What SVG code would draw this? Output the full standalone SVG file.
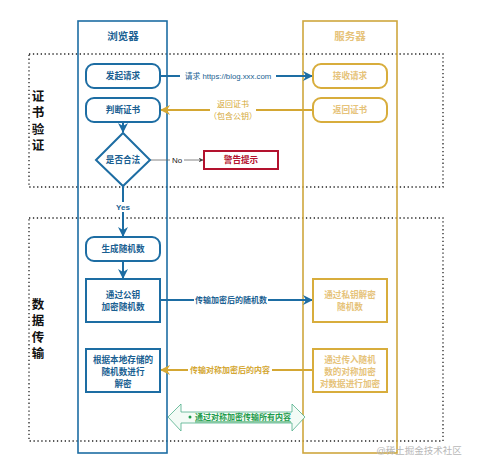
<svg xmlns="http://www.w3.org/2000/svg" width="477" height="468" viewBox="0 0 477 468">
<defs>
<style>
text{font-family:"Liberation Sans","Noto Sans CJK SC",sans-serif;text-anchor:middle;dominant-baseline:central}
.sec{fill:none;stroke:#222;stroke-width:1.3;stroke-dasharray:1.3 2.6}
.lb{fill:none;stroke:#1d6da3;stroke-width:1.6}
.lg{fill:none;stroke:#cfa73e;stroke-width:1.6}
.nb{fill:#fff;stroke:#1d6da3;stroke-width:2}
.ng{fill:#fff;stroke:#d8ad3c;stroke-width:2}
.tb{fill:#1a5f92;font-size:8.6px;font-weight:bold}
.tg{fill:#e6c37a;font-size:8.6px;font-weight:bold}
.sl{fill:#111;font-size:12.5px;font-weight:bold}
.cb{stroke:#1d6da3;stroke-width:2;fill:none}
.cg{stroke:#d4a733;stroke-width:2;fill:none}
</style>
<marker id="ab" viewBox="0 0 10 10" refX="9" refY="5" markerWidth="5" markerHeight="5" orient="auto"><path d="M0,0 L10,5 L0,10 L3,5 Z" fill="#1d6da3"/></marker>
<marker id="ag" viewBox="0 0 10 10" refX="9" refY="5" markerWidth="5" markerHeight="5" orient="auto"><path d="M0,0 L10,5 L0,10 L3,5 Z" fill="#d4a733"/></marker>
<marker id="ak" viewBox="0 0 10 10" refX="9" refY="5" markerWidth="6" markerHeight="6" orient="auto"><path d="M0,0 L10,5 L0,10 L3,5 Z" fill="#444"/></marker>
</defs>
<rect width="477" height="468" fill="#fff"/>

<g id="sections">
<rect class="sec" x="29" y="54" width="414" height="133"/>
<rect class="sec" x="29" y="218" width="414" height="223"/>
<text class="sl" x="38" y="97">证</text>
<text class="sl" x="38" y="113">书</text>
<text class="sl" x="38" y="130">验</text>
<text class="sl" x="38" y="146">证</text>
<text class="sl" x="38" y="305">数</text>
<text class="sl" x="38" y="321">据</text>
<text class="sl" x="38" y="338">传</text>
<text class="sl" x="38" y="354">输</text>
</g>

<g id="lane-browser">
<rect class="lb" x="78" y="21" width="89" height="432" stroke-width="2"/>
<text x="123" y="36" fill="#1a5f92" font-size="10.5" font-weight="bold">浏览器</text>
</g>
<g id="lane-server">
<rect class="lg" x="303" y="21" width="94" height="432" stroke-width="2"/>
<text x="350" y="36" fill="#e6c37a" font-size="10.5" font-weight="bold">服务器</text>
</g>

<g id="connectors">
<line class="cb" x1="123" y1="122" x2="123" y2="132" marker-end="url(#ab)"/>
<line x1="150" y1="160" x2="203" y2="160" stroke="#666" stroke-width="0.8" marker-end="url(#ak)"/>
<rect x="170" y="155" width="14" height="10" fill="#fff"/>
<text x="177" y="160" fill="#222" font-size="8">No</text>
<line class="cb" x1="123" y1="186" x2="123" y2="236" marker-end="url(#ab)"/>
<rect x="113" y="202" width="20" height="10" fill="#fff"/>
<text x="123" y="207" fill="#1a5f92" font-size="8" font-weight="bold">Yes</text>
<line class="cb" x1="123" y1="261" x2="123" y2="278" marker-end="url(#ab)"/>

<line class="cb" x1="160" y1="76" x2="312" y2="76" marker-end="url(#ab)"/>
<rect x="180" y="71" width="96" height="10" fill="#fff"/>
<text x="228" y="76" fill="#1a5f92" font-size="7.8">请求 https://blog.xxx.com</text>

<line class="cg" x1="313" y1="110" x2="161" y2="110" marker-end="url(#ag)"/>
<rect x="210" y="98" width="46" height="24" fill="#fff"/>
<text x="233" y="104" fill="#d4a733" font-size="8">返回证书</text>
<text x="233" y="116" fill="#d4a733" font-size="8">（包含公钥）</text>

<line class="cb" x1="160" y1="300" x2="312" y2="300" marker-end="url(#ab)"/>
<rect x="194" y="295" width="74" height="10" fill="#fff"/>
<text x="231" y="300" fill="#1a5f92" font-size="8" font-weight="bold">传输加密后的随机数</text>

<line class="cg" x1="313" y1="370" x2="161" y2="370" marker-end="url(#ag)"/>
<rect x="188" y="365" width="84" height="10" fill="#fff"/>
<text x="230" y="370" fill="#d4a733" font-size="8" font-weight="bold">传输对称加密后的内容</text>

<path d="M168,417 L181,404 L181,412 L292,412 L292,404 L305,417 L292,431 L292,423 L181,423 L181,431 Z" fill="#f3fbf6" stroke="#4fae8a" stroke-width="0.8"/>
<circle cx="190" cy="417" r="1.5" fill="#1e9b4c"/>
<text x="243" y="417" fill="#1e9b4c" font-size="8" font-weight="bold" text-decoration="underline">通过对称加密传输所有内容</text>
</g>

<g id="n-send">
<rect class="nb" x="86" y="64" width="74" height="24" rx="8"/>
<text class="tb" x="123" y="76">发起请求</text>
</g>
<g id="n-judge">
<rect class="nb" x="86" y="98" width="74" height="24" rx="8"/>
<text class="tb" x="123" y="110">判断证书</text>
</g>
<g id="n-valid">
<path class="nb" d="M123,133 L150,160 L123,186 L96,160 Z"/>
<text class="tb" x="123" y="160">是否合法</text>
</g>
<g id="n-warn">
<rect x="204" y="151" width="74" height="18" fill="#fff" stroke="#b3122e" stroke-width="2"/>
<text x="241" y="160" fill="#b3122e" font-size="8.6" font-weight="bold">警告提示</text>
</g>
<g id="n-gen">
<rect class="nb" x="86" y="237" width="74" height="24" rx="8"/>
<text class="tb" x="123" y="249">生成随机数</text>
</g>
<g id="n-encrypt">
<rect class="nb" x="86" y="279" width="74" height="43"/>
<text class="tb" x="123" y="295">通过公钥</text>
<text class="tb" x="123" y="307">加密随机数</text>
</g>
<g id="n-decrypt">
<rect class="nb" x="86" y="349" width="74" height="43"/>
<text class="tb" x="123" y="360">根据本地存储的</text>
<text class="tb" x="123" y="372">随机数进行</text>
<text class="tb" x="123" y="384">解密</text>
</g>

<g id="n-recv">
<rect class="ng" x="313" y="64" width="74" height="24" rx="8"/>
<text class="tg" x="350" y="76">接收请求</text>
</g>
<g id="n-return">
<rect class="ng" x="313" y="98" width="74" height="24" rx="8"/>
<text class="tg" x="350" y="110">返回证书</text>
</g>
<g id="n-privdec">
<rect class="ng" x="313" y="279" width="74" height="43"/>
<text class="tg" x="350" y="295">通过私钥解密</text>
<text class="tg" x="350" y="307">随机数</text>
</g>
<g id="n-symenc">
<rect class="ng" x="313" y="349" width="74" height="43"/>
<text class="tg" x="350" y="360">通过传入随机</text>
<text class="tg" x="350" y="372">数的对称加密</text>
<text class="tg" x="350" y="384">对数据进行加密</text>
</g>

<text x="419" y="450" fill="#b8b8b8" font-size="9.5">@稀土掘金技术社区</text>
</svg>
